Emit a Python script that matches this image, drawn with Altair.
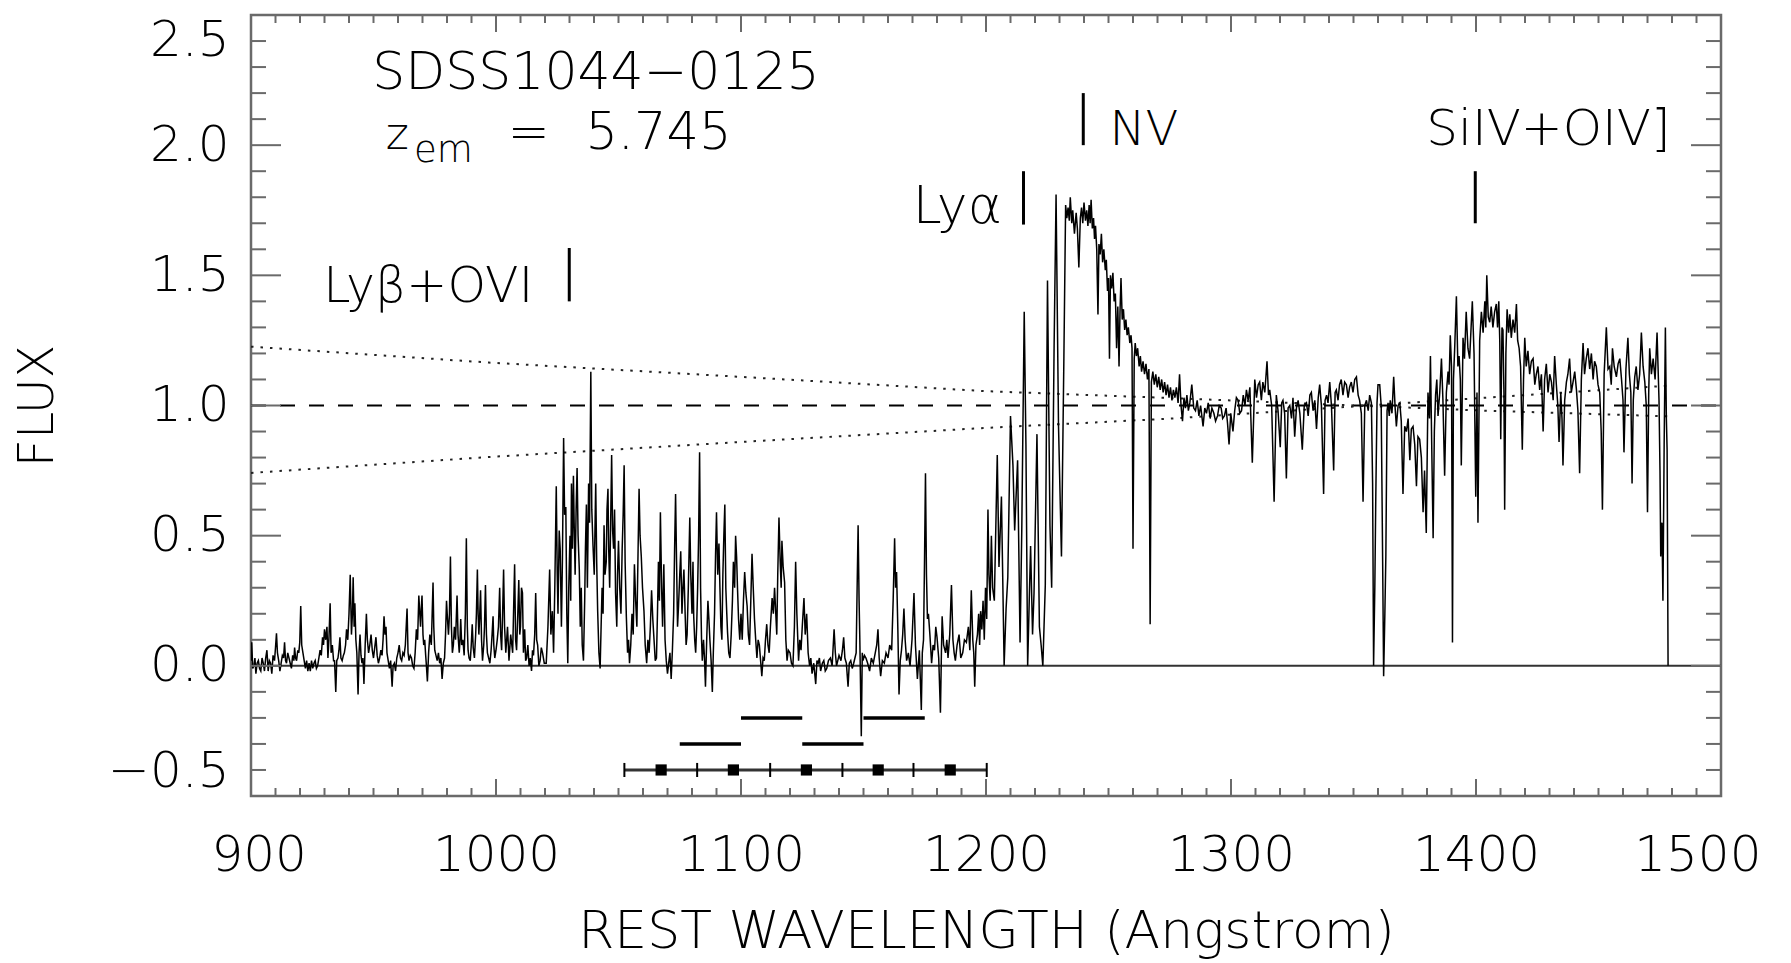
import altair as alt
import pandas as pd

FONT = "DejaVu Sans"
FW = 200
GRAY = "#6a6a6a"
W, H = 1470, 781

# ---------------- spectrum (rest wavelength, normalised flux) ----------------
seg_a = [(900.0,0.02),(900.3,0.09),(900.7,-0.01),(901.2,0.00),(901.6,0.03),(902.0,-0.03),(902.5,0.01),(903.0,0.02),
         (903.5,-0.01),(904.0,-0.02),(904.5,0.03),(905.0,0.01),(905.5,-0.02),(906.0,0.03),(906.5,0.06),(907.0,-0.02),
         (907.5,0.02),(908.0,0.01),(908.5,-0.03),(909.0,0.04),(909.6,0.02),(910.0,0.07),(910.4,0.125),(910.8,0.05),
         (911.3,0.02),(911.8,-0.02),(912.3,0.01),(912.8,0.04),(913.3,0.03),(913.7,0.09),(914.1,0.02),(914.5,0.01),
         (915.0,0.05),(915.5,0.03),(916.0,0.01),(916.5,-0.01),(917.0,0.04),(917.5,0.02),(917.8,0.07),(918.2,0.03),
         (918.6,0.02),(919.1,0.06),(919.5,0.05),(919.9,0.09),(920.3,0.23),(920.7,0.08),(921.2,0.05),(921.7,0.02),
         (922.2,-0.01),(922.7,0.02),(923.2,-0.02),(923.7,0.01),(924.2,-0.02),(924.7,0.02),(925.2,-0.01),(925.7,0.01),
         (926.2,0.02),(926.7,-0.01),(927.2,0.00),(927.7,0.03),(928.2,0.06),(928.7,0.04),(929.2,0.11),(929.6,0.08),
         (930.0,0.14),(930.5,0.10),(931.0,0.15),(931.4,0.03),(931.8,0.10),(932.3,0.24),(932.7,0.05),(933.2,0.08),
         (933.7,0.02),(934.1,0.02),(934.6,-0.10),(935.0,0.02),(935.5,0.03),(935.9,0.06),(936.3,0.11),(936.7,0.03),
         (937.2,0.02),(937.7,0.04),(938.1,0.05),(938.6,0.08),(939.0,0.14),(939.5,0.10),(940.0,0.20),(940.5,0.35),
         (941.0,0.12),(941.4,0.20),(941.7,0.34),(942.1,0.15),(942.4,0.24),(942.8,0.10),(943.2,0.05),(943.7,-0.11),
         (944.1,0.05),(944.5,0.12),(944.9,0.04),(945.3,0.01),(945.7,0.03),(946.1,-0.07),(946.6,0.08),(947.1,0.20),
         (947.5,0.10),(948.0,0.05),(948.5,0.08),(949.0,0.12),(949.5,0.06),(950.0,0.03),(950.5,0.07),(951.0,0.11),
         (951.5,0.04),(952.0,0.01),(952.5,0.03),(953.0,0.06),(953.5,0.04),(953.9,0.10),(954.3,0.19),(954.7,0.12),
         (955.1,0.15),(955.5,0.05),(956.0,0.02),(956.5,-0.01),(957.0,0.02),(957.6,-0.08),(958.0,0.00),(958.5,0.01),
         (959.0,-0.02),(959.5,0.03),(960.0,0.05),(960.5,0.08),(961.0,0.03),(961.5,0.02),(962.0,0.05),(962.5,0.04),
         (963.0,0.08),(963.7,0.22),(964.1,0.05),(964.5,0.02),(965.0,0.04),(965.5,0.03),(966.0,0.00),(966.5,-0.01),
         (967.0,0.05),(967.5,0.14),(968.0,0.10),(968.5,0.27),(968.9,0.20),(969.2,0.15),(969.5,0.22),(969.8,0.27),
         (970.2,0.12),(970.5,0.08),(970.9,0.10),(971.3,0.04),(971.6,0.00),(972.0,-0.06),(972.5,0.05),(973.0,0.12),
         (973.6,0.08),(974.3,0.32),(974.6,0.15),(975.0,0.06),(975.5,0.04),(976.0,0.02),(976.5,0.05),(977.0,0.01),
         (977.5,0.03),(978.0,-0.05),(978.5,0.01),(979.0,0.03),(979.4,0.12),(979.8,0.25),(980.2,0.18),(980.6,0.12),
         (981.0,0.20),(981.4,0.42),(981.8,0.15),(982.2,0.05),(982.6,0.08),(983.0,0.15),(983.5,0.10),(984.1,0.27),
         (984.5,0.12),(985.0,0.05),(985.3,0.10),(985.6,0.18),(986.0,0.08),(986.5,0.10),(987.0,0.04),(987.5,0.20),
         (987.9,0.49),(988.3,0.15),(988.6,0.06),(989.0,0.03),(989.5,0.02),(989.9,0.08),(990.3,0.16),(990.7,0.07),
         (991.2,0.03),(991.7,0.12),(992.0,0.20),(992.4,0.37),(992.7,0.20),(993.0,0.12),(993.3,0.18),(993.7,0.29),
         (994.1,0.10),(994.5,0.02),(995.0,0.08),(995.3,0.15),(995.7,0.31),(996.1,0.12),(996.5,0.05),(997.0,0.03),
         (997.5,0.01),(998.0,0.06),(998.4,0.12),(998.8,0.19),(999.1,0.08),(999.5,0.03),(1000.0,0.06),(1000.5,0.10),
         (1001.0,0.15),(1001.5,0.30),(1001.9,0.12),(1002.3,0.06),(1002.7,0.20),(1003.1,0.37),(1003.5,0.15)]

seg_b = [(1004.0,0.05),(1004.7,0.15),(1005.3,0.02),(1006.0,0.12),(1006.8,0.05),(1007.6,0.39),(1008.0,0.10),
         (1008.4,0.06),(1008.9,0.20),(1009.3,0.33),(1009.7,0.12),(1010.0,0.15),(1010.4,0.30),(1010.8,0.28),
         (1011.2,0.05),(1011.7,0.14),(1012.1,0.02),(1012.5,0.03),(1013.0,0.08),(1013.5,0.00),(1014.0,0.03),
         (1014.5,-0.02),(1014.9,0.06),(1015.3,0.04),(1015.8,0.12),(1016.2,0.28),(1016.6,0.10),(1017.0,0.08),
         (1017.5,0.00),(1018.0,0.02),(1018.5,0.07),(1019.0,0.05),(1019.7,0.01),(1020.5,0.01),(1021.2,0.15),
         (1021.9,0.37),(1022.4,0.12),(1023.0,0.21),(1023.5,0.05),(1024.0,0.30),(1024.6,0.69),(1025.0,0.35),
         (1025.3,0.20),(1025.8,0.52),(1026.2,0.45),(1026.7,0.15),(1027.1,0.40),(1027.6,0.875),(1028.0,0.58),
         (1028.5,0.61),(1028.9,0.20),(1029.3,0.01),(1029.7,0.30),(1030.2,0.50),(1030.5,0.25),(1030.8,0.70),
         (1031.2,0.45),(1031.6,0.73),(1031.9,0.55),(1032.3,0.35),(1032.7,0.60),(1033.1,0.76),(1033.5,0.50),
         (1034.0,0.37),(1034.4,0.15),(1034.8,0.30),(1035.2,0.08),(1035.7,0.02),(1036.2,0.25),(1036.5,0.45),
         (1036.9,0.62),(1037.3,0.30),(1037.8,0.70),(1038.2,0.55),(1038.7,1.13),(1039.1,0.60),(1039.6,0.46),
         (1040.1,0.35),(1040.7,0.70),(1041.1,0.40),(1041.5,0.21),(1042.0,0.05),(1042.5,-0.01),(1042.9,0.15),
         (1043.3,0.30),(1043.7,0.20),(1044.1,0.54),(1044.5,0.35),(1045.0,0.40),(1045.3,0.60),(1045.7,0.68),
         (1046.0,0.45),(1046.4,0.30),(1046.8,0.55),(1047.2,0.81),(1047.6,0.52),(1048.0,0.45),(1048.4,0.60),
         (1048.8,0.28),(1049.3,0.15),(1049.6,0.35),(1050.0,0.48),(1050.5,0.30),(1051.0,0.20),(1051.5,0.45),
         (1051.9,0.58),(1052.3,0.77),(1052.7,0.40),(1053.2,0.19),(1053.7,0.05),(1054.1,0.10),(1054.5,0.01),
         (1055.0,0.08),(1055.5,0.20),(1056.0,0.12),(1056.5,0.39),(1057.0,0.25),(1057.5,0.15),(1058.0,0.45),
         (1058.4,0.68),(1058.8,0.50),(1059.3,0.42),(1059.8,0.30),(1060.4,0.21),(1060.9,0.08),(1061.5,0.01),
         (1062.0,0.10),(1062.5,0.05),(1063.0,0.15),(1063.5,0.29),(1064.0,0.18),(1064.5,0.10),(1065.0,0.02),
         (1065.5,0.03),(1065.9,0.20),(1066.3,0.40),(1066.7,0.25),(1067.1,0.59),(1067.6,0.30),(1068.0,0.15),
         (1068.5,0.39),(1069.0,0.10),(1069.5,0.02),(1070.0,-0.03),(1070.6,0.02),(1071.0,0.05),(1071.5,-0.05),
         (1072.0,0.06),(1072.5,0.20),(1072.9,0.45),(1073.3,0.66),(1073.7,0.40),(1074.1,0.15),(1074.5,0.23),
         (1075.0,0.35),(1075.4,0.44),(1075.9,0.20),(1076.3,0.30),(1076.7,0.37),(1077.2,0.20),(1077.6,0.08),
         (1078.0,0.12),(1078.5,0.30),(1079.1,0.57),(1079.5,0.35),(1080.0,0.20),(1080.4,0.40),(1080.7,0.19),
         (1081.1,0.10),(1081.5,0.05),(1081.9,0.15),(1082.3,0.30),(1082.7,0.50),(1083.1,0.82),(1083.5,0.30),
         (1083.9,0.10),(1084.2,0.02),(1084.7,0.10),(1085.1,0.03),(1085.5,-0.08),(1086.0,0.10),(1086.5,0.25),
         (1086.9,0.18),(1087.3,0.10),(1087.8,0.02),(1088.3,-0.10),(1088.7,0.05),(1089.2,0.20),(1089.6,0.42),
         (1090.0,0.59),(1090.5,0.35),(1091.0,0.47),(1091.4,0.30),(1091.8,0.15),(1092.2,0.10),(1092.6,0.35),
         (1093.0,0.50),(1093.4,0.62),(1093.8,0.30),(1094.2,0.20),(1094.5,0.13),(1095.0,0.05),(1095.5,0.03),
         (1096.0,0.12),(1096.5,0.25),(1096.9,0.40),(1097.4,0.30),(1097.8,0.50),(1098.2,0.42),(1098.6,0.29),
         (1099.0,0.18),(1099.5,0.10)]

seg_c = [(1100.0,0.20),(1100.5,0.10),(1101.0,0.25),(1101.5,0.36),(1102.0,0.28),(1102.5,0.23),(1103.0,0.12),
         (1103.5,0.08),(1104.0,0.25),(1104.5,0.43),(1105.0,0.30),(1105.5,0.18),(1106.0,0.10),(1106.5,0.03),
         (1107.0,0.10),(1107.5,0.08),(1108.0,0.02),(1108.5,-0.04),(1109.0,0.03),(1109.5,0.02),(1110.0,0.10),
         (1110.5,0.16),(1111.0,0.08),(1111.5,0.05),(1112.0,0.15),(1112.7,0.26),(1113.2,0.20),(1113.7,0.30),
         (1114.2,0.20),(1114.6,0.12),(1115.0,0.35),(1115.5,0.57),(1116.0,0.40),(1116.4,0.30),(1116.7,0.48),
         (1117.2,0.38),(1117.8,0.32),(1118.3,0.10),(1118.8,0.02),(1119.3,0.06),(1120.0,0.05),(1120.6,0.01),
         (1121.2,0.00),(1121.8,0.15),(1122.3,0.40),(1122.8,0.20),(1123.5,0.02),(1124.0,0.10),(1124.5,0.06),
         (1125.0,0.15),(1125.7,0.26),(1126.2,0.12),(1126.8,0.20),(1127.4,0.05),(1128.0,0.00),(1128.5,0.03),
         (1129.0,-0.03),(1129.7,0.01),(1130.5,-0.07),(1131.0,0.02),(1131.5,0.01),(1132.0,0.03),(1132.5,-0.02),
         (1133.2,0.01),(1133.8,0.02),(1134.4,-0.02),(1135.0,-0.01),(1135.7,0.02),(1136.5,0.03),(1137.2,0.00),
         (1138.0,0.14),(1138.5,0.05),(1139.0,0.00),(1139.5,0.02),(1140.0,0.04),(1140.8,0.02),(1141.4,0.06),
         (1141.9,0.11),(1142.4,0.03),(1143.0,0.01),(1143.7,-0.08),(1144.2,0.01),(1144.8,0.02),(1145.4,-0.01),
         (1146.0,0.01),(1146.5,0.03),(1147.0,0.05),(1147.4,0.30),(1147.8,0.54),(1148.2,0.25),(1148.5,0.10),
         (1149.1,-0.27),(1149.5,0.05),(1149.8,0.02),(1150.4,0.04),(1151.0,0.03),(1151.7,0.01),(1152.5,-0.02),
         (1153.2,0.03),(1154.0,0.01),(1154.8,0.05),(1155.4,0.08),(1155.9,0.14),(1156.4,0.03),(1157.0,-0.04),
         (1157.7,0.02),(1158.5,0.01),(1159.2,0.05),(1160.0,0.03),(1160.7,0.08),(1161.5,0.06),(1162.1,0.25),
         (1162.7,0.49),(1163.1,0.30),(1163.5,0.36),(1164.0,0.15),(1164.5,-0.11),(1165.0,0.02),(1165.5,0.06),
         (1166.0,0.12),(1166.5,0.22),(1167.0,0.10),(1167.6,0.02),(1168.3,0.05),(1169.0,0.00),(1169.8,0.10),
         (1170.6,0.28),(1171.2,0.08),(1172.0,-0.05),(1172.8,0.06),(1173.6,-0.17),(1174.0,0.05),(1174.5,0.10),
         (1174.9,0.40),(1175.3,0.74),(1175.7,0.35),(1176.1,0.18),(1176.5,0.20),(1177.1,0.12),(1177.8,0.01),
         (1178.4,0.08),(1179.0,0.06),(1179.5,0.15),(1180.0,0.11),(1180.7,0.03),(1181.4,-0.18),(1181.8,0.05),
         (1182.1,0.19),(1182.7,0.08),(1183.5,0.05),(1184.0,0.10),(1184.5,0.03),(1185.2,0.12),(1185.9,0.31),
         (1186.5,0.10),(1187.0,0.05),(1187.5,0.02),(1188.2,0.08),(1189.0,0.12),(1189.7,0.03),(1190.5,0.05),
         (1191.2,0.10),(1192.0,0.09),(1192.8,0.15),(1193.4,0.06),(1194.0,0.29),(1194.6,0.10),(1195.0,0.05),
         (1195.4,-0.08),(1195.9,0.08),(1196.5,0.12),(1197.0,0.20),(1197.4,0.08),(1197.8,0.21),(1198.3,0.14),
         (1198.8,0.25),(1199.3,0.10),(1199.8,0.30),(1200.3,0.18),(1200.8,0.60),(1201.2,0.35),(1201.7,0.25),
         (1202.2,0.50),(1202.7,0.30)]

seg_d = [(1203.4,0.25),(1204.6,0.81),(1205.3,0.38),(1206.3,0.65),(1207.4,0.00),(1208.2,0.22),(1208.9,0.34),
         (1210.0,0.96),(1211.0,0.77),(1211.7,0.52),(1212.9,0.79),(1213.9,0.09),(1214.6,0.52),(1215.6,1.36),
         (1216.3,0.85),(1217.0,0.00),(1218.2,0.46),(1219.0,0.12),(1219.6,0.28),(1220.8,0.89),(1221.8,0.15),
         (1222.5,0.08),(1223.2,0.00),(1224.2,0.31),(1225.1,1.48),(1226.1,0.54),(1226.8,0.30),(1227.8,1.23),
         (1228.6,1.81),(1229.6,0.92),(1230.8,0.42),(1231.8,1.19),(1232.5,1.77),(1233.0,1.72),(1233.5,1.76),
         (1234.0,1.71),(1234.4,1.80),(1235.0,1.70),(1235.4,1.75),(1236.1,1.66),(1236.8,1.74),(1237.3,1.68),
         (1237.9,1.53),(1238.5,1.72),(1239.0,1.76),(1239.5,1.70),(1240.0,1.78),(1240.6,1.71),(1241.1,1.75),
         (1241.6,1.69),(1242.1,1.77),(1242.5,1.70),(1242.9,1.79),(1243.4,1.68),(1243.9,1.72),(1244.3,1.64),
         (1244.7,1.69),(1245.2,1.60),(1245.7,1.35),(1246.1,1.62),(1246.6,1.58),(1247.1,1.66),(1247.6,1.55),
         (1248.1,1.60),(1248.7,1.52),(1249.1,1.56),(1249.6,1.44),(1250.0,1.49),(1250.4,1.18),(1250.8,1.50),
         (1251.3,1.45),(1251.8,1.51),(1252.3,1.40),(1252.8,1.43),(1253.3,1.22),(1253.8,1.38),(1254.3,1.15),
         (1254.7,1.36),(1255.1,1.49),(1255.6,1.33),(1256.1,1.37),(1256.6,1.29),(1257.1,1.33),(1257.6,1.27),
         (1258.1,1.30),(1258.7,1.24),(1259.2,1.27),(1259.6,1.22),(1260.0,0.45),(1260.5,1.18),(1260.9,1.24),
         (1261.4,1.19),(1261.9,1.22),(1262.5,1.15),(1263.0,1.19),(1263.5,1.13),(1264.1,1.17),(1264.7,1.12),
         (1265.3,1.16),(1265.9,1.10),(1266.5,1.14),(1267.0,0.16),(1267.5,1.09),(1268.1,1.13),(1268.7,1.08),
         (1269.3,1.12),(1269.9,1.07),(1270.5,1.11),(1271.1,1.06),(1271.7,1.10),(1272.3,1.05),(1272.9,1.09),
         (1273.5,1.04),(1274.1,1.08),(1274.7,1.03),(1275.3,1.07),(1275.9,1.02),(1276.5,1.06),(1277.1,1.03),
         (1277.7,1.07),(1278.4,1.01),(1279.0,1.12),(1279.6,1.00),(1280.2,0.94),(1280.8,1.03),(1281.4,0.99),
         (1282.0,1.04),(1282.6,0.98),(1283.2,1.01)]

seg_e = [(1284.0,1.08),(1284.8,0.99),(1285.5,0.98),(1286.2,1.02),(1286.9,0.96),(1287.6,1.00),(1288.6,0.92),
         (1289.3,0.99),(1290.0,0.97),(1290.7,1.01),(1291.5,0.95),(1292.2,0.99),(1293.0,0.97),(1293.7,0.94),
         (1294.5,0.96),(1295.2,1.00),(1296.0,0.99),(1296.6,0.95),(1297.3,0.96),(1298.0,0.99),(1298.6,0.93),
         (1299.2,0.85),(1299.9,0.97),(1300.8,0.90),(1301.5,0.98),(1302.2,1.03),(1302.9,1.02),(1303.6,0.97),
         (1304.3,0.98),(1305.0,1.04),(1305.7,1.00),(1306.3,1.06),(1307.0,1.02),(1307.7,1.07),(1308.7,0.78),
         (1309.7,1.10),(1310.4,1.03),(1311.1,1.08),(1311.7,1.09),(1312.4,1.02),(1313.0,1.09),(1313.8,1.05),
         (1314.7,1.17),(1315.3,1.04),(1315.8,1.06),(1316.6,1.00),(1317.6,0.63),(1318.5,1.04),(1319.2,0.98),
         (1320.1,0.84),(1320.7,1.01),(1321.2,1.02),(1321.9,0.97),(1322.6,0.72),(1323.3,0.99),(1324.0,1.00),
         (1324.7,0.95),(1325.3,1.03),(1326.0,0.88),(1326.7,0.99),(1327.4,1.02),(1328.1,0.97),(1329.1,0.83),
         (1329.9,1.00),(1330.8,1.01),(1331.5,0.96),(1332.2,1.04),(1332.8,1.05),(1333.5,0.98),(1334.2,1.02),
         (1334.9,0.91),(1335.6,1.03),(1336.2,1.08),(1336.9,1.00),(1337.8,0.66),(1338.4,1.02),(1339.0,1.04),
         (1339.6,1.01),(1340.3,1.09),(1341.0,1.00),(1341.9,0.75),(1342.5,1.05),(1343.0,1.06),(1343.7,1.02),
         (1344.3,1.08),(1345.0,1.10),(1345.7,1.04),(1346.4,1.09),(1347.1,1.08),(1347.8,1.03),(1348.4,1.07),
         (1349.1,1.09),(1349.8,1.05),(1350.5,1.10),(1351.2,1.11),(1351.9,1.04),(1352.5,1.02),(1353.2,0.97),
         (1353.9,0.63),(1354.6,1.00),(1355.3,1.02),(1356.0,0.98),(1356.6,1.04),(1357.3,1.01),(1357.8,0.70),
         (1358.2,0.00),(1358.7,0.30),(1359.1,0.65),(1359.6,1.01),(1360.0,1.08),(1360.7,1.08),(1361.3,1.00),
         (1361.9,0.40),(1362.3,-0.04),(1362.8,0.20),(1363.2,0.42),(1363.7,0.98),(1364.1,1.01),(1364.6,0.96),
         (1365.0,1.02),(1365.7,0.97),(1366.4,1.11),(1367.0,0.99),(1367.5,0.92),(1368.2,1.00),(1368.9,1.01),
         (1369.5,0.94),(1370.2,0.66),(1370.9,0.92),(1371.6,0.90),(1372.3,0.95),(1373.0,0.79),(1373.6,0.91),
         (1374.3,0.92),(1375.0,0.85),(1375.7,0.69),(1376.3,0.88),(1377.0,0.87),(1377.7,0.80),(1378.4,0.59),
         (1379.0,0.75),(1379.7,0.51)]

seg_f = [(1380.4,1.05),(1381.0,0.95),(1381.4,1.19),(1382.0,0.80),(1382.5,0.49),(1383.0,0.90),(1383.5,1.04),
         (1384.0,1.10),(1384.5,0.96),(1385.2,1.05),(1385.9,1.18),(1386.5,1.02),(1387.2,0.73),(1387.9,1.05),
         (1388.6,1.13),(1389.0,1.08),(1389.5,1.27),(1390.0,1.15),(1390.4,0.09),(1390.8,1.10),(1391.3,1.22),
         (1392.0,1.42),(1392.6,1.15),(1393.1,1.19),(1393.6,1.10),(1394.0,0.77),(1394.7,1.26),(1395.3,1.18),
         (1396.0,1.36),(1396.7,1.22),(1397.4,1.18),(1398.0,1.30),(1398.5,1.40),(1399.2,1.20),(1399.9,0.65),
         (1400.4,1.05),(1400.8,0.55),(1401.5,1.25),(1402.2,1.36),(1402.9,1.28),(1403.6,1.40),(1404.0,1.30),
         (1404.4,1.50),(1405.0,1.34),(1405.6,1.32),(1406.2,1.38),(1406.9,1.30),(1407.6,1.36),(1408.3,1.39),
         (1408.8,1.30),(1409.3,1.40),(1409.7,1.25),(1410.1,0.87),(1410.6,1.30),(1411.0,1.29),(1411.4,1.05),
         (1411.7,0.60),(1412.2,1.20),(1412.7,1.37),(1413.3,1.28),(1413.8,1.35),(1414.4,1.26),(1415.1,1.33),
         (1415.8,1.28),(1416.5,1.39),(1417.0,1.25),(1417.6,1.22),(1418.2,1.15),(1418.9,0.83),(1419.4,1.10),
         (1419.9,1.26),(1420.5,1.15),(1421.2,1.21),(1421.9,1.12),(1422.6,1.17),(1423.3,1.18),(1424.0,1.08),
         (1424.6,1.12),(1425.3,1.15),(1426.0,1.06),(1426.7,1.12),(1427.4,0.90),(1428.0,1.10),(1428.7,1.16),
         (1429.4,1.05),(1430.1,1.12),(1430.8,1.09),(1431.5,1.02),(1432.1,1.19),(1432.8,1.08),(1433.4,1.00),
         (1433.9,0.86),(1434.6,1.05),(1435.1,0.95),(1435.5,0.77),(1436.2,1.02),(1436.9,1.09),(1437.5,1.12),
         (1438.2,1.18),(1438.9,1.05),(1439.6,1.09),(1440.3,1.13),(1441.0,1.06),(1441.6,0.98),(1442.3,0.74),
         (1443.0,1.10),(1443.7,1.24),(1444.3,1.12),(1445.0,1.18),(1445.7,1.22),(1446.4,1.14),(1447.1,1.20),
         (1447.8,1.10),(1448.4,1.17),(1449.1,1.15),(1449.8,1.08),(1450.5,1.05),(1451.1,0.90),(1451.6,0.60),
         (1452.3,1.12),(1453.2,1.30),(1453.9,1.14),(1454.6,1.15),(1455.2,1.08),(1455.7,1.22),(1456.4,1.15),
         (1457.3,1.11),(1458.0,1.16),(1458.7,1.18),(1459.4,1.10),(1460.0,1.02),(1460.4,0.82),(1461.2,1.14),
         (1462.0,1.26),(1462.6,1.12),(1463.2,1.05),(1463.7,0.70),(1464.2,1.02),(1464.8,1.11),(1465.4,1.15),
         (1466.1,1.06),(1466.8,1.12),(1467.5,1.28),(1468.2,1.15),(1468.9,1.09),(1469.5,1.00),(1470.0,0.59),
         (1470.5,1.05),(1470.9,1.22),(1471.6,1.12),(1472.3,1.18),(1473.1,1.10),(1473.9,1.28),(1474.3,1.15),
         (1474.7,1.02),(1475.1,0.75),(1475.4,0.42),(1475.9,0.55),(1476.3,0.25),(1476.8,0.85),(1477.3,1.30),
         (1477.7,0.95),(1478.0,0.83),(1478.4,0.00)]

# continuum guide curves (dotted)
dot_upper_x = [900, 997, 1100, 1200, 1277, 1404, 1480]
dot_upper_y = [1.226, 1.165, 1.11, 1.055, 1.028, 0.98, 0.958]
dot_lower_x = [900, 997, 1100, 1200, 1276, 1404, 1480]
dot_lower_y = [0.741, 0.802, 0.86, 0.914, 0.95, 1.03, 1.077]

# redshift-bin bars below the spectrum
bar_x1 = [1075, 1100, 1125, 1150]
bar_x2 = [1100, 1125, 1150, 1175]
bar_y = [-0.3, -0.2, -0.3, -0.2]

# scale bar at -0.4
scale_ticks = [1052.4, 1082.1, 1111.9, 1141.4, 1170.4, 1200.3]
scale_squares = [1067.4, 1096.9, 1126.7, 1156.0, 1185.4]
scale_y = -0.4

# emission-line markers
mark_x = [1029.9, 1215.3, 1239.7, 1399.7]
mark_y1 = [1.40, 1.695, 2.00, 1.70]
mark_y2 = [1.605, 1.90, 2.20, 1.90]

# axis ticks / labels
x_labels = [900, 1000, 1100, 1200, 1300, 1400, 1500]
y_labels = [-0.5, 0.0, 0.5, 1.0, 1.5, 2.0, 2.5]
x_major_ticks = [1000, 1100, 1200, 1300, 1400]
x_minor_ticks = [v for v in range(910, 1500, 10) if v % 100 != 0]
y_major_ticks = [0.0, 0.5, 1.0, 1.5, 2.0]
y_minor_ticks = [round(-0.4 + 0.1 * i, 1) for i in range(29)
                 if round(-0.4 + 0.1 * i, 1) not in (0.0, 0.5, 1.0, 1.5, 2.0)]

# ---------------- tables ----------------
spec = pd.DataFrame(seg_a + seg_b + seg_c + seg_d + seg_e + seg_f, columns=["wave", "flux"])
dots = pd.concat([
    pd.DataFrame({"wave": dot_upper_x, "flux": dot_upper_y, "g": "u"}),
    pd.DataFrame({"wave": dot_lower_x, "flux": dot_lower_y, "g": "l"}),
])
bars = pd.DataFrame({"x1": bar_x1, "x2": bar_x2, "y": bar_y})
scale_line = pd.DataFrame({"x1": [scale_ticks[0]], "x2": [scale_ticks[-1]], "y": [scale_y]})
scale_tk = pd.DataFrame({"x": scale_ticks, "y1": [scale_y - 0.027] * len(scale_ticks),
                         "y2": [scale_y + 0.027] * len(scale_ticks)})
scale_sq = pd.DataFrame({"x": scale_squares, "y": [scale_y] * len(scale_squares)})
markers = pd.DataFrame({"x": mark_x, "y1": mark_y1, "y2": mark_y2})

xs = alt.Scale(domain=[900, 1500], nice=False, zero=False)
ys = alt.Scale(domain=[-0.5, 2.5], nice=False, zero=False)

xaxis = alt.Axis(values=x_labels, format="d", labelFontSize=50, labelFont=FONT, labelFontWeight=FW,
                 labelColor="black", labelFlush=True, labelFlushOffset=40, labelOverlap=False,
                 ticks=False, tickSize=0, domain=False, grid=False, labelPadding=34,
                 title="REST WAVELENGTH (Angstrom)", titleFont=FONT, titleFontSize=52,
                 titleFontWeight=FW, titleColor="black", titleX=W / 2, titleY=151,
                 titleAlign="center", titleBaseline="alphabetic")
yaxis = alt.Axis(values=y_labels, format=".1f", labelFontSize=50, labelFont=FONT, labelFontWeight=FW,
                 labelColor="black", labelOverlap=False,
                 ticks=False, tickSize=0, domain=False, grid=False, labelPadding=22, labelFlush=True,
                 title="FLUX", titleFont=FONT, titleFontSize=49, titleFontWeight=FW,
                 titleColor="black", titleX=-214, titleY=H / 2, titleAngle=270,
                 titleAlign="center", titleBaseline="middle")


def X(f):
    return alt.X(f, type="quantitative", scale=xs, axis=xaxis)


def Y(f):
    return alt.Y(f, type="quantitative", scale=ys, axis=yaxis)


layers = []

# reference lines
layers.append(alt.Chart(pd.DataFrame({"y": [0.0]})).mark_rule(color="#333333", strokeWidth=2).encode(
    y=Y("y"), x=alt.value(0), x2=alt.value(W)))
layers.append(alt.Chart(pd.DataFrame({"y": [1.0]})).mark_rule(color="black", strokeWidth=2,
                                                             strokeDash=[15, 14]).encode(
    y=Y("y"), x=alt.value(0), x2=alt.value(W)))
layers.append(alt.Chart(dots).mark_line(color="#222222", strokeWidth=2, strokeDash=[2.5, 7]).encode(
    x=X("wave"), y=Y("flux"), detail="g:N"))

# spectrum
layers.append(alt.Chart(spec).mark_line(color="black", strokeWidth=1.5, clip=True).encode(
    x=X("wave"), y=Y("flux")))

# bars & scale bar
layers.append(alt.Chart(bars).mark_rule(color="black", strokeWidth=3.5).encode(
    x=X("x1"), x2="x2", y=Y("y")))
layers.append(alt.Chart(scale_line).mark_rule(color="#333333", strokeWidth=3).encode(
    x=X("x1"), x2="x2", y=Y("y")))
layers.append(alt.Chart(scale_tk).mark_rule(color="black", strokeWidth=2).encode(
    x=X("x"), y=Y("y1"), y2="y2"))
layers.append(alt.Chart(scale_sq).mark_square(color="black", size=125, opacity=1).encode(
    x=X("x"), y=Y("y")))

# line markers
layers.append(alt.Chart(markers).mark_rule(color="black", strokeWidth=3).encode(
    x=X("x"), y=Y("y1"), y2="y2"))


# texts
def txt(t, x, y, size, align="left"):
    df = pd.DataFrame({"t": [t], "x": [x], "y": [y]})
    return alt.Chart(df).mark_text(align=align, baseline="alphabetic", font=FONT, fontSize=size,
                                   fontWeight=FW, color="black").encode(
        x=X("x"), y=Y("y"), text="t:N")


layers += [
    txt("SDSS1044\u22120125", 949.5, 2.215, 52),
    txt("z", 955.0, 1.985, 44),
    txt("em", 966.5, 1.935, 37),
    txt("=", 1004.8, 1.985, 50),
    txt("5.745", 1036.5, 1.985, 51),
    txt("Ly\u03b2+OVI", 929.5, 1.398, 49),
    txt("Ly\u03b1", 1206.5, 1.70, 52, align="right"),
    txt("NV", 1250.4, 2.001, 48),
    txt("SiIV+OIV]", 1379.7, 2.001, 50),
]


# frame ticks (inward, on all four sides)
def ticks_y(vals, length):
    df = pd.DataFrame({"v": vals})
    left = alt.Chart(df).mark_rule(color=GRAY, strokeWidth=2).encode(
        y=Y("v"), x=alt.value(0), x2=alt.value(length))
    right = alt.Chart(df).mark_rule(color=GRAY, strokeWidth=2).encode(
        y=Y("v"), x=alt.value(W - length), x2=alt.value(W))
    return [left, right]


def ticks_x(vals, length):
    df = pd.DataFrame({"v": vals})
    bottom = alt.Chart(df).mark_rule(color=GRAY, strokeWidth=2).encode(
        x=X("v"), y=alt.value(H), y2=alt.value(H - length))
    top = alt.Chart(df).mark_rule(color=GRAY, strokeWidth=2).encode(
        x=X("v"), y=alt.value(0), y2=alt.value(length))
    return [bottom, top]


layers += ticks_y(y_minor_ticks, 15) + ticks_y(y_major_ticks, 30)
layers += ticks_x(x_minor_ticks, 8) + ticks_x(x_major_ticks, 17)

chart = alt.layer(*layers).properties(
    width=W, height=H,
    autosize=alt.AutoSizeParams(type="none"),
    padding={"left": 251, "top": 15, "right": 70, "bottom": 167},
    background="white",
).configure_view(stroke=GRAY, strokeWidth=2.5)

chart.save("out.html", embed_options={"renderer": "svg", "actions": False})
